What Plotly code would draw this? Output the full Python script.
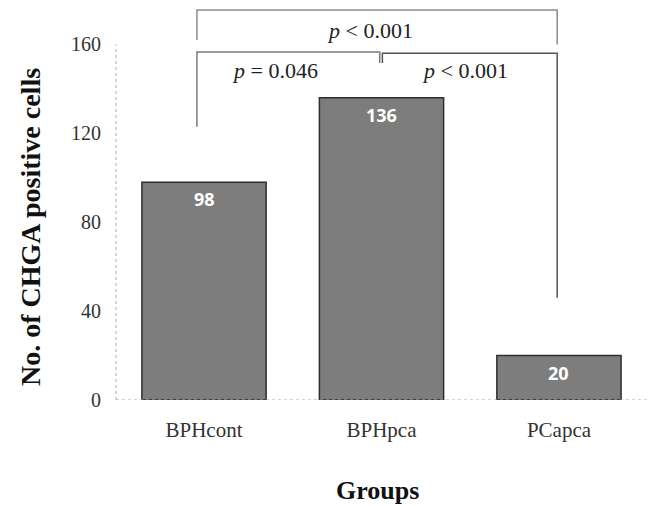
import plotly.graph_objects as go

groups = ["BPHcont", "BPHpca", "PCapca"]
counts = [98, 136, 20]
y_ticks = [0, 40, 80, 120, 160]
p_labels = ["<i>p</i> &lt; 0.001", "<i>p</i> = 0.046", "<i>p</i> &lt; 0.001"]

serif = "Liberation Serif, Times New Roman, serif"

fig = go.Figure()
fig.add_trace(go.Bar(
    x=[0, 1, 2], y=counts, width=0.7,
    marker=dict(color="#7d7d7d", line=dict(color="#2e2e2e", width=1.5)),
    hoverinfo="skip", showlegend=False,
))

# value labels inside bars
for i, v in enumerate(counts):
    fig.add_annotation(x=i, y=v, yshift=-17, text=f"<b>{v}</b>", showarrow=False,
                       font=dict(family="Open Sans, Liberation Sans, sans-serif", size=18, color="white"))

shapes = []
# axis lines (dotted)
shapes.append(dict(type="line", xref="paper", yref="y", x0=0, x1=0, y0=0, y1=160,
                   line=dict(color="#aaaaaa", width=1, dash="dot")))
shapes.append(dict(type="line", xref="paper", yref="y", x0=0, x1=1, y0=0, y1=0,
                   line=dict(color="#aaaaaa", width=1, dash="dot")))

xl, xm, xr = -0.04, 0.99, 1.99
# outer bracket
shapes.append(dict(type="path", xref="x", yref="y",
                   path=f"M {xl} 162 L {xl} 175.5 L {xr} 175.5 L {xr} 160",
                   line=dict(color="#8c8c8c", width=1.5)))
# inner brackets
shapes.append(dict(type="path", xref="x", yref="y",
                   path=f"M {xl} 123 L {xl} 156.6 L {xm} 156.6 L {xm} 151.7",
                   line=dict(color="#7a7a7a", width=1.5)))
shapes.append(dict(type="path", xref="x", yref="y",
                   path=f"M {xm+0.015} 151.7 L {xm+0.015} 156 L {xr} 156 L {xr} 46",
                   line=dict(color="#555555", width=1.5)))
fig.update_layout(shapes=shapes)

# p-value labels
p_pos = [(0.935, 166.5), (0.40, 148.5), (1.47, 148.5)]
for (px, py), t in zip(p_pos, p_labels):
    fig.add_annotation(x=px, y=py, text=t, showarrow=False,
                       font=dict(family=serif, size=22, color="#222222"))

# axis titles
fig.add_annotation(xref="paper", yref="paper", x=-0.161, y=0.4325, textangle=-90,
                   xanchor="center", yanchor="middle",
                   text="<b>No. of CHGA positive cells</b>", showarrow=False,
                   font=dict(family=serif, size=28, color="#111111"))
fig.add_annotation(xref="paper", yref="paper", x=0.489, y=-0.225,
                   xanchor="center", yanchor="middle",
                   text="<b>Groups</b>", showarrow=False,
                   font=dict(family=serif, size=26, color="#111111"))

fig.update_xaxes(range=[-0.496, 2.513], tickvals=[0, 1, 2], ticktext=groups,
                 showgrid=False, zeroline=False, showline=False,
                 ticks="outside", ticklen=11, tickcolor="rgba(0,0,0,0)",
                 tickfont=dict(family=serif, size=21, color="#333333"))
fig.update_yaxes(range=[0, 180], tickvals=y_ticks,
                 showgrid=False, zeroline=False, showline=False,
                 ticks="outside", ticklen=10, tickcolor="rgba(0,0,0,0)",
                 tickfont=dict(family=serif, size=20, color="#333333"))

fig.update_layout(width=652, height=506,
                  margin=dict(l=116, r=2, t=0, b=106),
                  plot_bgcolor="white", paper_bgcolor="white")

fig.write_html("out.html")
